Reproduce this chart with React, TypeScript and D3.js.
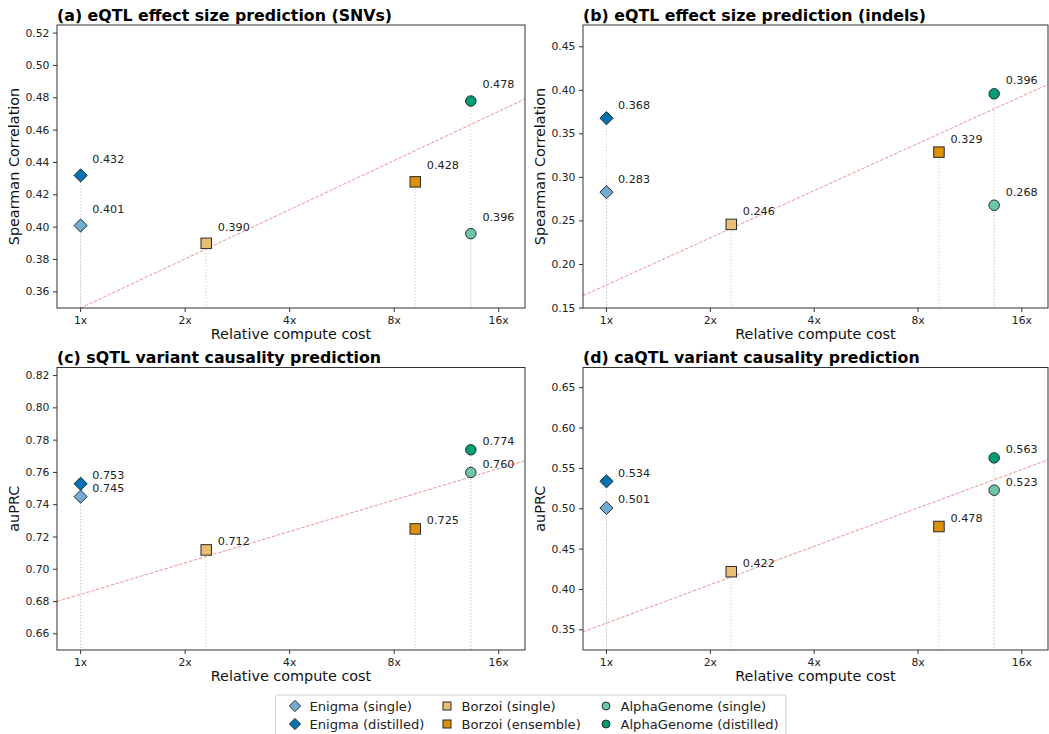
import React from 'react';
import * as d3 from 'd3';

// ---------- data ----------
const models = [
  'Enigma (single)',
  'Enigma (distilled)',
  'Borzoi (single)',
  'Borzoi (ensemble)',
  'AlphaGenome (single)',
  'AlphaGenome (distilled)',
];
const modelShapes = ['diamond', 'diamond', 'square', 'square', 'circle', 'circle'];
const modelColors = ['#72acd3', '#0173b2', '#e9bd73', '#de8f05', '#6cc6a5', '#029e73'];
const computeCost = [1, 1, 2.3, 9.2, 13.3, 13.3];

const eqtlSnvs = [0.401, 0.432, 0.39, 0.428, 0.396, 0.478];
const eqtlIndels = [0.283, 0.368, 0.246, 0.329, 0.268, 0.396];
const sqtl = [0.745, 0.753, 0.712, 0.725, 0.76, 0.774];
const caqtl = [0.501, 0.534, 0.422, 0.478, 0.523, 0.563];

const panelTitles = [
  '(a) eQTL effect size prediction (SNVs)',
  '(b) eQTL effect size prediction (indels)',
  '(c) sQTL variant causality prediction',
  '(d) caQTL variant causality prediction',
];
const yLabels = ['Spearman Correlation', 'Spearman Correlation', 'auPRC', 'auPRC'];
const yDomains = [
  [0.35, 0.525],
  [0.15, 0.475],
  [0.65, 0.825],
  [0.325, 0.675],
];
const yTicksA = [0.36, 0.38, 0.4, 0.42, 0.44, 0.46, 0.48, 0.5, 0.52];
const yTicksB = [0.15, 0.2, 0.25, 0.3, 0.35, 0.4, 0.45];
const yTicksC = [0.66, 0.68, 0.7, 0.72, 0.74, 0.76, 0.78, 0.8, 0.82];
const yTicksD = [0.35, 0.4, 0.45, 0.5, 0.55, 0.6, 0.65];
// trend line: value = intercept + slope * log2(cost)
const trendIntercept = [0.35, 0.1764, 0.6845, 0.3583];
const trendSlope = [0.0304, 0.0542, 0.01947, 0.0476];
const labelLift = [0.01, 0.015, 0.005, 0.01];

const xTickValues = [1, 2, 4, 8, 16];
const xTickLabels = ['1x', '2x', '4x', '8x', '16x'];
const xDomain = [0.855, 19.05];

const panelValues = [eqtlSnvs, eqtlIndels, sqtl, caqtl];
const panelYTicks = [yTicksA, yTicksB, yTicksC, yTicksD];

// ---------- layout ----------
const W = 1049;
const H = 734;
const boxes = [
  { l: 57, r: 525, t: 25, b: 308 },
  { l: 583, r: 1048, t: 25, b: 308 },
  { l: 57, r: 525, t: 367.5, b: 650 },
  { l: 583, r: 1048, t: 367.5, b: 650 },
];
const FONT = 'DejaVu Sans, Verdana, sans-serif';
const EDGE = '#2b2b2b';

function Marker({ shape, x, y, size, fill }: { shape: string; x: number; y: number; size: number; fill: string }) {
  if (shape === 'diamond') {
    const r = size * 0.66;
    const d = `M${x},${y - r}L${x + r},${y}L${x},${y + r}L${x - r},${y}Z`;
    return <path d={d} fill={fill} stroke={EDGE} strokeWidth={1} />;
  }
  if (shape === 'square') {
    const s = size;
    return <rect x={x - s / 2} y={y - s / 2} width={s} height={s} fill={fill} stroke={EDGE} strokeWidth={1} />;
  }
  return <circle cx={x} cy={y} r={size / 2} fill={fill} stroke={EDGE} strokeWidth={1} />;
}

function Panel({ idx }: { idx: number }) {
  const box = boxes[idx];
  const x = d3.scaleLog().base(2).domain(xDomain).range([box.l, box.r]);
  const y = d3.scaleLinear().domain(yDomains[idx]).range([box.b, box.t]);
  const vals = panelValues[idx];
  const fmt = d3.format('.2f');
  const fmt3 = d3.format('.3f');
  const clipId = `clip${idx}`;
  const trend = d3
    .line<number>()
    .x((c) => x(c))
    .y((c) => y(trendIntercept[idx] + trendSlope[idx] * Math.log2(c)));
  const trendXs = [xDomain[0], xDomain[1]];
  return (
    <g>
      <defs>
        <clipPath id={clipId}>
          <rect x={box.l} y={box.t} width={box.r - box.l} height={box.b - box.t} />
        </clipPath>
      </defs>
      {/* drop lines */}
      <g clipPath={`url(#${clipId})`}>
        {vals.map((v, i) => (
          <line
            key={`dl${i}`}
            x1={x(computeCost[i])}
            x2={x(computeCost[i])}
            y1={y(v)}
            y2={box.b}
            stroke="#cfcfcf"
            strokeWidth={1}
            strokeDasharray="1.2,2"
          />
        ))}
        <path
          d={trend(trendXs) || ''}
          fill="none"
          stroke="#d62728"
          strokeOpacity={0.5}
          strokeWidth={1}
          strokeDasharray="3.5,1.6"
        />
        {vals.map((v, i) => (
          <Marker
            key={`m${i}`}
            shape={modelShapes[i]}
            x={x(computeCost[i])}
            y={y(v)}
            size={modelShapes[i] === 'diamond' ? 10 : 10.5}
            fill={modelColors[i]}
          />
        ))}
      </g>
      {/* value labels */}
      {vals.map((v, i) => (
        <text
          key={`t${i}`}
          x={x(computeCost[i] * 1.08)}
          y={y(v + labelLift[idx])}
          dominantBaseline="central"
          fontFamily={FONT}
          fontSize={11.2}
          fill="#222"
        >
          {fmt3(v)}
        </text>
      ))}
      {/* frame */}
      <rect
        x={box.l}
        y={box.t}
        width={box.r - box.l}
        height={box.b - box.t}
        fill="none"
        stroke="#333"
        strokeWidth={1}
      />
      {/* y axis */}
      {panelYTicks[idx].map((t) => (
        <g key={`yt${t}`}>
          <line x1={box.l - 4} x2={box.l} y1={y(t)} y2={y(t)} stroke="#333" strokeWidth={1} />
          <text
            x={box.l - 7.5}
            y={y(t)}
            textAnchor="end"
            dominantBaseline="central"
            fontFamily={FONT}
            fontSize={10.8}
            fill="#222"
          >
            {fmt(t)}
          </text>
        </g>
      ))}
      {/* x axis */}
      {xTickValues.map((t, i) => (
        <g key={`xt${t}`}>
          <line x1={x(t)} x2={x(t)} y1={box.b} y2={box.b + 4} stroke="#333" strokeWidth={1} />
          <text
            x={x(t)}
            y={box.b + 15.5}
            textAnchor="middle"
            fontFamily={FONT}
            fontSize={10.8}
            fill="#222"
          >
            {xTickLabels[i]}
          </text>
        </g>
      ))}
      <text
        x={(box.l + box.r) / 2}
        y={box.b + 30.5}
        textAnchor="middle"
        fontFamily={FONT}
        fontSize={14.4}
        fill="#111"
      >
        Relative compute cost
      </text>
      <text
        transform={`translate(${box.l - 38},${(box.t + box.b) / 2}) rotate(-90)`}
        textAnchor="middle"
        fontFamily={FONT}
        fontSize={14.4}
        fill="#111"
      >
        {yLabels[idx]}
      </text>
      <text x={box.l} y={box.t - 4.5} fontFamily={FONT} fontSize={15.8} fontWeight="bold" fill="#000">
        {panelTitles[idx]}
      </text>
    </g>
  );
}

const legendCols = [295, 447, 606];
const legendRows = [706, 724];

function Legend() {
  return (
    <g>
      <rect x={275.5} y={695} width={510.5} height={50} rx={3} fill="#fff" fillOpacity={0.8} stroke="#d0d0d0" strokeWidth={1} />
      {models.map((m, i) => {
        const cx = legendCols[Math.floor(i / 2)];
        const cy = legendRows[i % 2];
        return (
          <g key={m}>
            <Marker shape={modelShapes[i]} x={cx} y={cy} size={modelShapes[i] === 'diamond' ? 8.5 : 8} fill={modelColors[i]} />
            <text x={cx + 14.5} y={cy} dominantBaseline="central" fontFamily={FONT} fontSize={13.1} fill="#222">
              {m}
            </text>
          </g>
        );
      })}
    </g>
  );
}

export default function App() {
  return (
    <svg
      width={W}
      height={H}
      viewBox={`0 0 ${W} ${H}`}
      style={{ position: 'absolute', left: 0, top: 0, background: '#fff' }}
    >
      <rect x={0} y={0} width={W} height={H} fill="#fff" />
      {[0, 1, 2, 3].map((i) => (
        <Panel key={i} idx={i} />
      ))}
      <Legend />
    </svg>
  );
}
